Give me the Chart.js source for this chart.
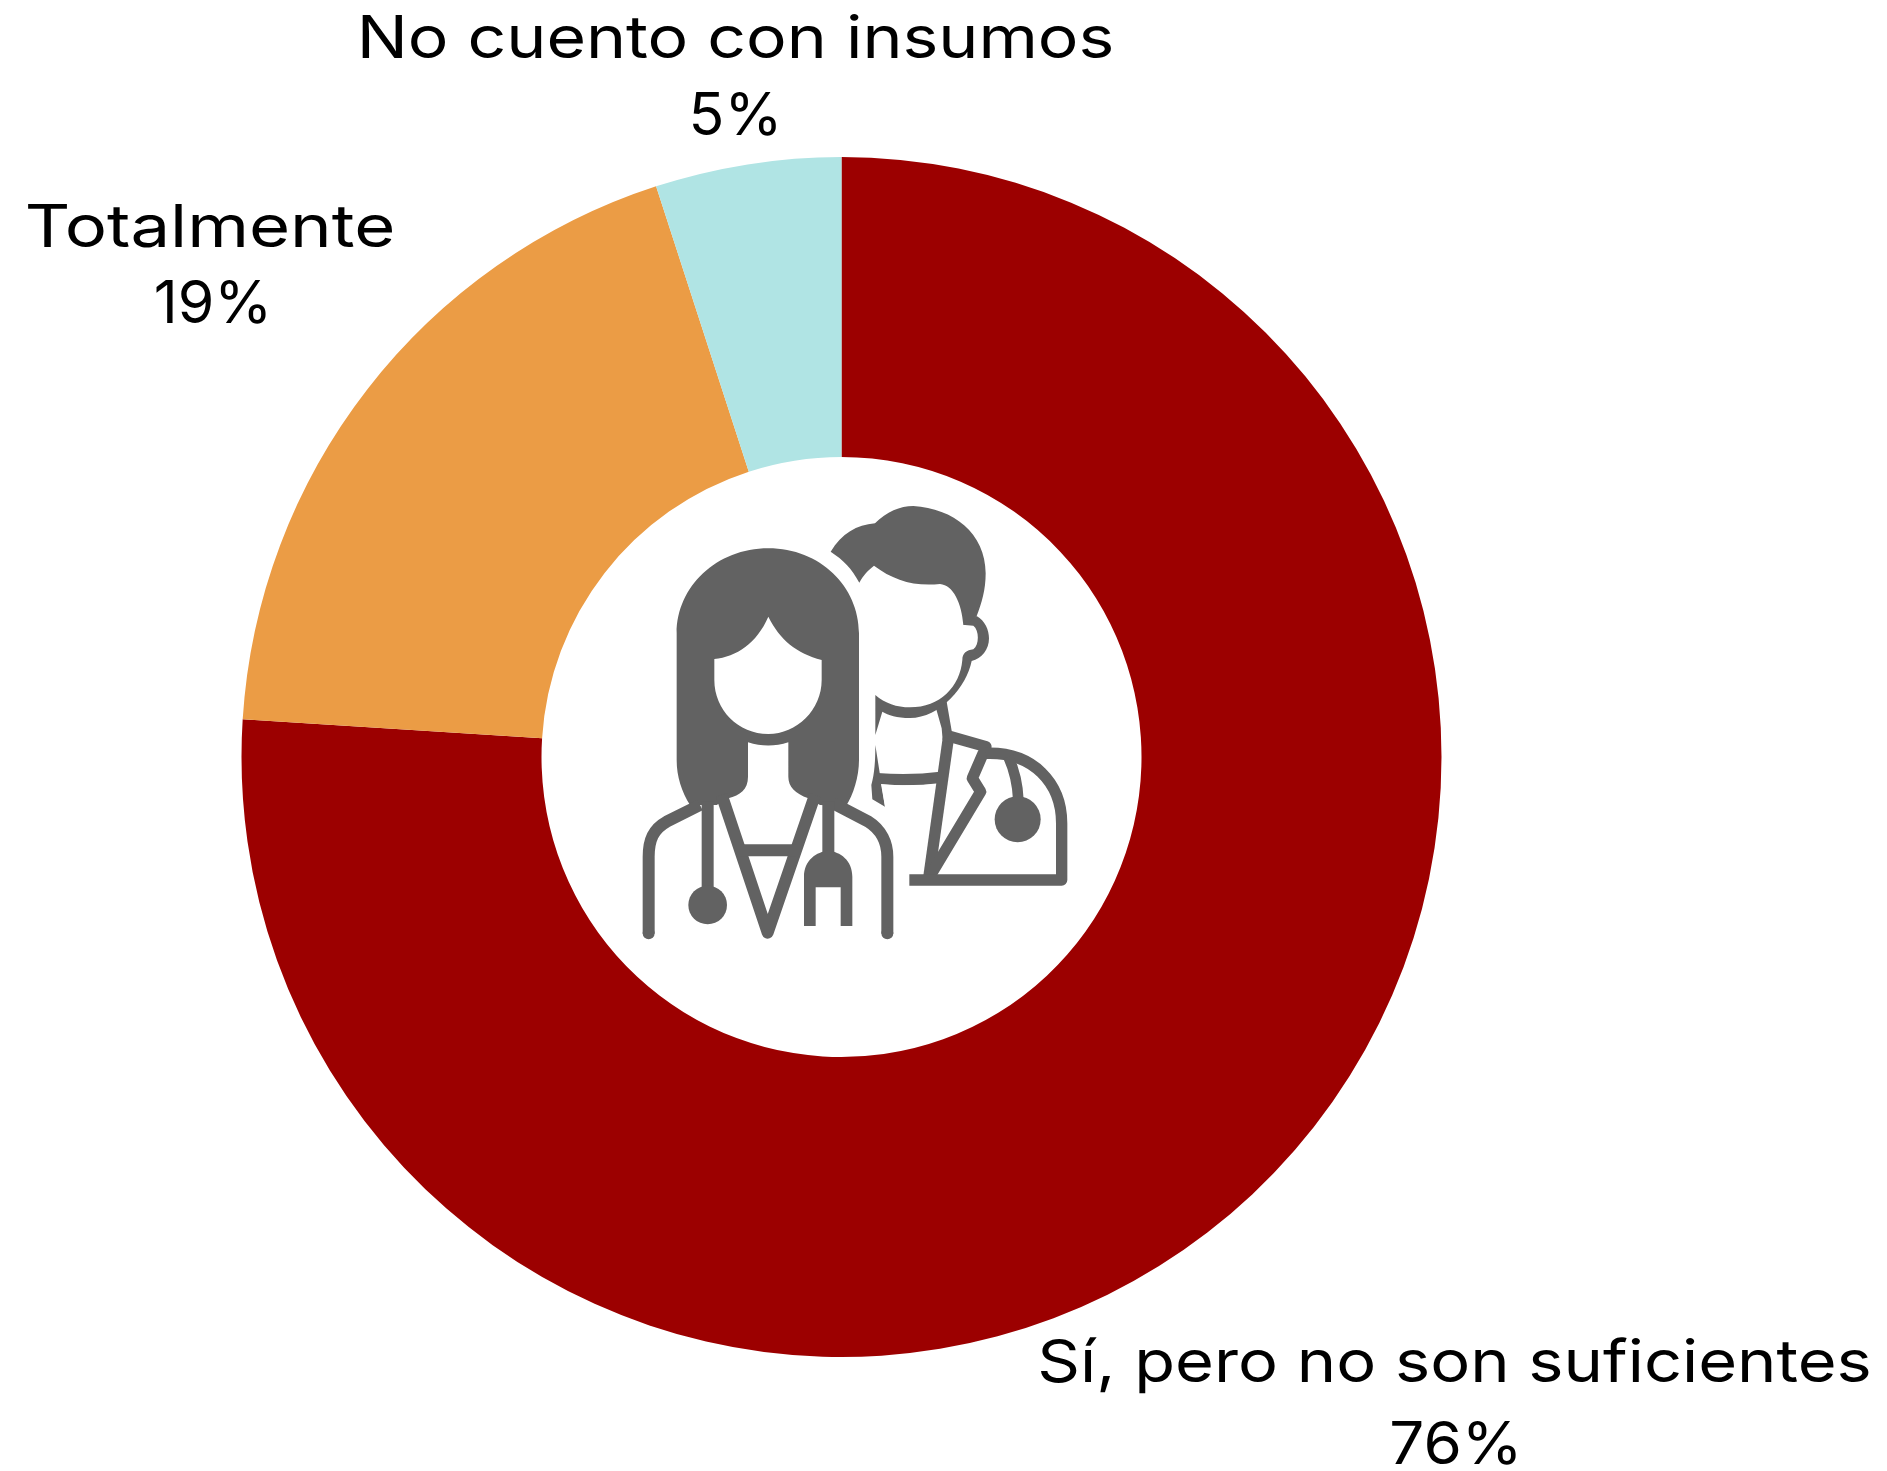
<!DOCTYPE html>
<html lang="es">
<head>
<meta charset="utf-8">
<title>Insumos</title>
<style>
html,body{margin:0;padding:0;background:#fff;overflow:hidden;}
canvas{display:block;}
</style>
<script src="https://cdn.jsdelivr.net/npm/chart.js@4"></script>
</head>
<body>
<canvas id="c" width="1887" height="1471"></canvas>
<script>
const categories = ["Sí, pero no son suficientes", "Totalmente", "No cuento con insumos"];
const values = [76, 19, 5];
const colors = ["#9C0000", "#EB9C45", "#B0E4E4"];

const labelLayout = [
  {x:1454.5, px:1456, y1:1382, y2:1464, sx1:1.131, sx2:1.05},
  {x:210, px:213, y1:247, y2:323, sx1:1.196, sx2:1},
  {x:735.5, px:735.5, y1:58, y2:135, sx1:1.15, sx2:1}
];
const FONT = '400 59px Inter, "Noto Sans", sans-serif';

const labelPlugin = {
  id:'labels',
  afterDraw(chart){
    const ctx = chart.ctx;
    const put = (t,x,y,sx) => {
      ctx.save();
      ctx.translate(x,y);
      ctx.scale(sx,1);
      ctx.fillText(t,0,0);
      ctx.restore();
    };
    ctx.save();
    ctx.font = FONT;
    ctx.fillStyle = '#000';
    ctx.textAlign = 'center';
    ctx.textBaseline = 'alphabetic';
    categories.forEach((name,i)=>{
      const a = labelLayout[i];
      put(name, a.x, a.y1, a.sx1);
      put(values[i] + '%', a.px, a.y2, a.sx2);
    });
    ctx.restore();
  }
};

const GREY = '#626262';
const iconPlugin = {
  id:'icon',
  afterDraw(chart){
    const arc = chart.getDatasetMeta(0).data[0];
    const ctx = chart.ctx;
    ctx.save();
    ctx.translate(arc.x - 221.5, arc.y - 267);
    ctx.scale(1/3, 1/3);
    ctx.fillStyle = GREY;
    ctx.strokeStyle = GREY;
    ctx.lineJoin = 'round';

    const fill = d => ctx.fill(new Path2D(d));
    const stroke = (d,w,cap) => { ctx.lineWidth = w; ctx.lineCap = cap || 'butt'; ctx.stroke(new Path2D(d)); };
    const dot = (x,y,r) => { ctx.beginPath(); ctx.arc(x,y,r,0,Math.PI*2); ctx.fill(); };

    // woman: hair and face
    fill('M170,430 C170,290 290,175 445,175 C600,175 717,290 717,430 L717,810 C717,860 700,915 678,948 L600,945 L565,925 C525,910 505,890 505,860 L505,757 C465,770 425,770 384,757 L384,860 C384,900 360,915 325,925 L290,945 L210,945 C185,905 170,860 170,810 Z');
    ctx.fillStyle = '#fff';
    fill('M283,507 C350,500 410,460 445,380 C480,450 530,490 605,510 L605,570 C605,660 530,732 445,732 C355,732 283,660 283,570 Z');
    ctx.fillStyle = GREY;
    // woman: coat
    stroke('M240,945 L140,995 C100,1017 86,1050 86,1100 L86,1330', 36);
    stroke('M640,940 L745,995 C785,1020 802,1060 802,1100 L802,1330', 36);
    dot(86,1330,18);
    dot(802,1330,18);
    stroke('M305,915 L443,1328 L585,915', 36);
    stroke('M362,1081 L528,1081', 36);
    // woman: stethoscope
    stroke('M263,935 L263,1200', 36);
    dot(263,1245,58);
    stroke('M625,935 L625,1090', 36);
    fill('M552,1308 L552,1160 C552,1110 590,1085 625,1082 C660,1085 697,1110 697,1160 L697,1308 L662,1308 L662,1192 L587,1192 L587,1308 Z');

    // man: hair, ear and jaw
    fill('M632,185 C665,130 710,105 765,100 C800,65 840,48 880,48 C1000,55 1097,130 1097,250 C1097,300 1085,340 1070,378 L1045,405 L1030,405 C1025,340 1000,285 960,282 C880,290 820,270 762,227 C745,240 730,255 718,278 C695,235 670,210 632,185 Z');
    fill('M1070,378 C1095,392 1107,420 1107,445 C1107,480 1085,505 1055,513 C1040,590 960,684 870,684 C830,684 805,675 787,665 L766,735 L766,615 C795,640 830,652 870,652 C960,652 1020,590 1027,510 C1027,490 1040,480 1060,478 C1078,465 1078,420 1060,407 L1035,405 Z');
    // man: neck, collar, coat
    fill('M948,655 L965,715 L968,750 L1000,755 L995,722 L980,635 Z');
    stroke('M770,866 C830,870 900,870 962,862', 34);
    fill('M766,765 L795,950 L757,928 L754,885 C764,850 766,810 766,765 Z');
    ctx.fillStyle = '#fff';
    fill('M783,882 C835,887 900,887 950,882 L945,930 L795,950 Z');
    ctx.fillStyle = GREY;
    stroke('M985,745 L926,1165', 34);
    stroke('M985,738 L1098,770 L1057,865 L1082,905 L935,1150', 34);
    stroke('M1098,790 C1240,785 1325,880 1325,1000 L1325,1170 L868,1170', 34);
    stroke('M1165,800 C1185,845 1193,880 1195,930', 32);
    dot(1193,988,69);
    ctx.restore();
  }
};

new Chart(document.getElementById('c'), {
  type:'doughnut',
  data:{
    labels:categories,
    datasets:[{data:values, backgroundColor:colors, borderWidth:0}]
  },
  options:{
    responsive:false,
    animation:false,
    cutout:'50%',
    layout:{padding:{left:241.5, right:445.5, top:157, bottom:114}},
    plugins:{legend:{display:false}, tooltip:{enabled:false}, title:{display:false}}
  },
  plugins:[labelPlugin, iconPlugin]
});
</script>
</body>
</html>
